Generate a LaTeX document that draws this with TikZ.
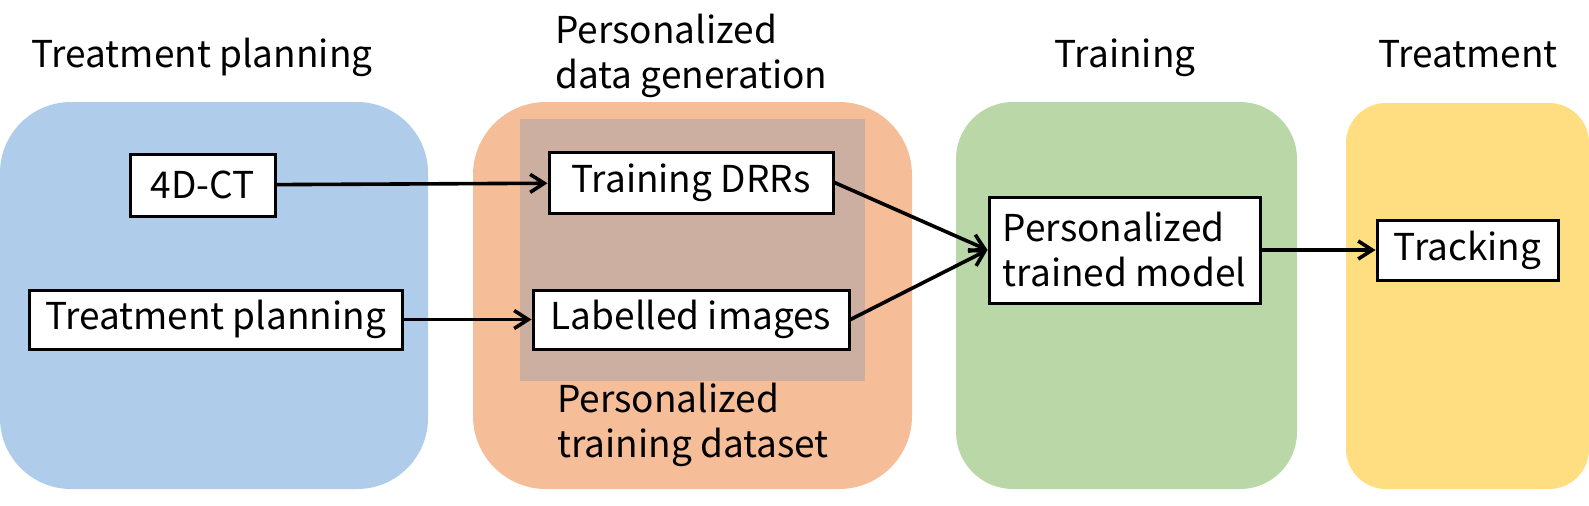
\documentclass[tikz,border=0pt]{standalone}
\usepackage{fontspec}
\setmainfont{Noto Sans CJK JP}
\usepackage{tikz}
\usetikzlibrary{
	arrows.meta,
	positioning
}
\definecolor{PanelBlue}{RGB}{175,205,234}
\definecolor{PanelOrange}{RGB}{245,189,152}
\definecolor{InnerBrown}{RGB}{204,175,160}
\definecolor{PanelGreen}{RGB}{185,215,167}
\definecolor{PanelYellow}{RGB}{255,222,130}

\begin{document}
\begin{tikzpicture}[x=0.5pt, y=-0.5pt,
		txt/.style={font=\fontsize{18.5}{22.5}\selectfont},
		box/.style={txt, draw, line width=1.5pt, fill=white, inner sep=0pt},
		title/.style={txt, inner sep=0pt, anchor=base},
		flow/.style={-{Straight Barb[length=7pt,width=9pt]}, line width=1.8pt}]
		\useasboundingbox (0,0) rectangle (1589,505);
		% stage panels
		\fill[PanelBlue, rounded corners=35.5pt] (0,102) rectangle (428,489);
		\fill[PanelOrange, rounded corners=36.5pt] (473,102) rectangle (912,489);
		\fill[InnerBrown] (520,119) rectangle (865,381);
		\fill[PanelGreen, rounded corners=28.5pt] (956,102) rectangle (1297,489);
		\fill[PanelYellow, rounded corners=20pt] (1346,103) rectangle (1589,489);
		
		\node[title] (tplan) at (202,67) {Treatment planning};
		\node[title, align=left, anchor=base west] (tgen) at (555,88) {Personalized\\data generation};
		\node[title] (ttrain) at (1125,67) {Training};
		\node[title] (ttreat) at (1468,67) {Treatment};
		\node[title, align=left, anchor=base west] (tset) at (557,457) {Personalized\\training dataset};
		
		\node[box, minimum width=72.5pt, minimum height=31pt] (ct) at (202.5,185) {4D-CT};
		\node[box, minimum width=186.5pt, minimum height=29.5pt] (plan) at (215.5,319.5) {Treatment planning};
		\node[box, minimum width=142pt, minimum height=30.5pt] (drr) at (691,182.5) {Training DRRs};
		\node[box, minimum width=158pt, minimum height=29.5pt] (lab) at (691,319.5) {Labelled images};
		\node[box, align=left, minimum width=135.5pt, minimum height=53pt] (model) at (1124.5,250) {Personalized\\trained model};
		\node[box, minimum width=90.5pt, minimum height=30pt] (track) at (1467.5,250) {Tracking};
		
		\draw[flow] (ct) -- (drr);
		\draw[flow] (plan) -- (lab);
		\draw[flow] (drr.east) -- (model.west);
		\draw[flow] (lab.east) -- (model.west);
		\draw[flow] (model) -- (track);
	\end{tikzpicture}
\end{document}
